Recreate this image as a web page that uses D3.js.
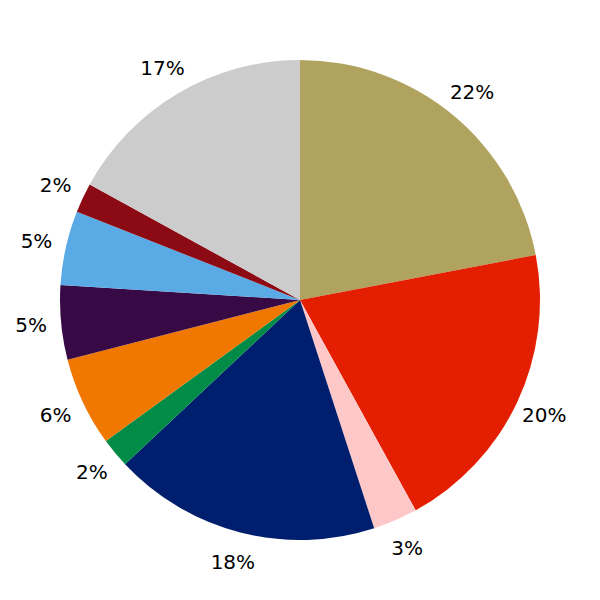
<!DOCTYPE html>
<html>
<head>
<meta charset="utf-8">
<script src="https://cdn.jsdelivr.net/npm/d3@7"></script>
<style>
  html, body { margin: 0; padding: 0; background: #fff; }
  svg text { font-family: "DejaVu Sans", sans-serif; }
</style>
</head>
<body>
<svg id="chart" width="600" height="600"></svg>
<script>
const categories = ["A", "B", "C", "D", "E", "F", "G", "H", "I", "J"];
const values = [22, 20, 3, 18, 2, 6, 5, 5, 2, 17];
const labels = ["22%", "20%", "3%", "18%", "2%", "6%", "5%", "5%", "2%", "17%"];
const colors = ["#AFA35F", "#E41E00", "#FFC8C8", "#001E6E", "#008C46", "#F07800", "#370A46", "#5AAAE6", "#8C0A14", "#CCCCCC"];

const width = 600, height = 600;
const cx = 300, cy = 300, R = 240;

const svg = d3.select("#chart");
const g = svg.append("g").attr("transform", `translate(${cx},${cy})`);

const data = categories.map((c, i) => ({ cat: c, value: values[i], label: labels[i], color: colors[i] }));

const pie = d3.pie().value(d => d.value).sort(null);
const arcs = pie(data);

const arc = d3.arc().innerRadius(0).outerRadius(R);
const labelArc = d3.arc().innerRadius(R * 1.125).outerRadius(R * 1.125);

g.selectAll("path.slice")
  .data(arcs)
  .join("path")
  .attr("class", "slice")
  .attr("d", arc)
  .attr("fill", d => d.data.color);

g.selectAll("text.lbl")
  .data(arcs)
  .join("text")
  .attr("class", "lbl")
  .attr("transform", d => `translate(${labelArc.centroid(d)})`)
  .attr("text-anchor", "middle")
  .attr("dominant-baseline", "central")
  .attr("font-size", 20)
  .attr("fill", "#000")
  .text(d => d.data.label);
</script>
</body>
</html>
